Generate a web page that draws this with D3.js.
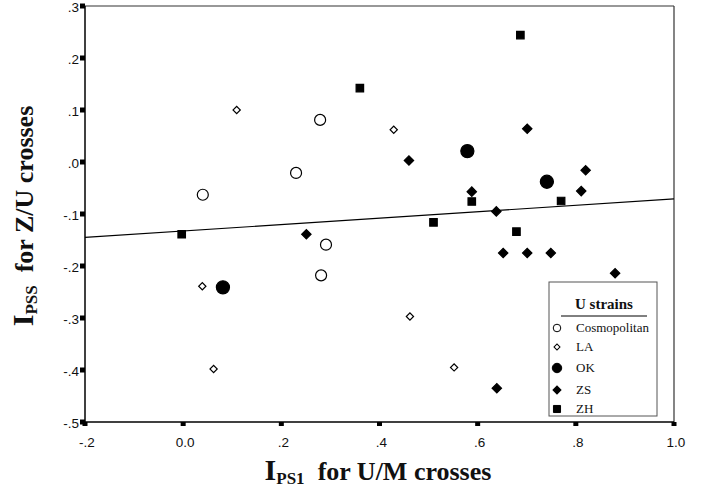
<!DOCTYPE html>
<html>
<head>
<meta charset="utf-8">
<script src="https://cdn.jsdelivr.net/npm/d3@7"></script>
<style>
  body { margin: 0; background: #fff; }
  svg { display: block; }
  .tick-label { font-family: "Liberation Sans", Arial, sans-serif; font-size: 13.5px; fill: #111; }
  .title { font-family: "Liberation Serif", "Times New Roman", serif; font-weight: bold; fill: #111; }
  .legend-text { font-family: "Liberation Serif", "Times New Roman", serif; font-size: 13px; fill: #111; }
</style>
</head>
<body>
<svg id="chart" width="706" height="492"></svg>
<script>
// strains, in legend order
let strains = ["Cosmopolitan", "LA", "OK", "ZS", "ZH"]

// I_PS1 (x) and I_PSS (y) values
let cosmoX = [0.040, 0.230, 0.279, 0.291, 0.281]
let cosmoY = [-0.063, -0.021, 0.081, -0.159, -0.218]

let laX = [0.109, 0.429, 0.039, 0.062, 0.462, 0.552]
let laY = [0.100, 0.062, -0.239, -0.398, -0.297, -0.395]

let okX = [0.579, 0.741, 0.081]
let okY = [0.021, -0.038, -0.241]

let zsX = [0.701, 0.460, 0.820, 0.588, 0.811, 0.638, 0.251, 0.652, 0.701, 0.749, 0.880, 0.639]
let zsY = [0.064, 0.003, -0.016, -0.057, -0.056, -0.095, -0.139, -0.175, -0.175, -0.175, -0.214, -0.435]

let zhX = [0.687, 0.360, 0.588, 0.770, 0.510, 0.679, -0.003]
let zhY = [0.244, 0.142, -0.076, -0.075, -0.116, -0.134, -0.139]

// fitted line drawn in the figure
let fitIntercept = -0.1327
let fitSlope = 0.0617

let xTicks = [-0.2, 0.0, 0.2, 0.4, 0.6, 0.8, 1.0]
let xTickLabels = ["-.2", "0.0", ".2", ".4", ".6", ".8", "1.0"]
let yTicks = [0.3, 0.2, 0.1, 0.0, -0.1, -0.2, -0.3, -0.4, -0.5]
let yTickLabels = [".3", ".2", ".1", ".0", "-.1", "-.2", "-.3", "-.4", "-.5"]

let svg = d3.select("#chart")

let plotLeft = 85, plotRight = 674, plotTop = 6, plotBottom = 422

let x = d3.scaleLinear().domain([-0.2, 1.0]).range([plotLeft, plotRight])
let y = d3.scaleLinear().domain([-0.5, 0.3]).range([plotBottom, plotTop])

// frame
svg.append("line").attr("x1", plotLeft).attr("x2", plotRight).attr("y1", plotTop).attr("y2", plotTop)
    .attr("stroke", "#333").attr("stroke-width", 1.2)
svg.append("line").attr("x1", plotRight).attr("x2", plotRight).attr("y1", plotTop).attr("y2", plotBottom)
    .attr("stroke", "#333").attr("stroke-width", 1.2)
svg.append("line").attr("x1", plotLeft).attr("x2", plotLeft).attr("y1", plotTop).attr("y2", plotBottom)
    .attr("stroke", "#000").attr("stroke-width", 1.5)
svg.append("line").attr("x1", plotLeft).attr("x2", plotRight).attr("y1", plotBottom).attr("y2", plotBottom)
    .attr("stroke", "#000").attr("stroke-width", 1.5)

// axes: little square ticks + labels
let yAxis = svg.append("g")
yAxis.selectAll("rect")
    .data(yTicks)
    .join("rect")
    .attr("x", plotLeft - 5)
    .attr("y", d => y(d) - 2.5)
    .attr("width", 5)
    .attr("height", 5)
    .attr("fill", "#000")
yAxis.selectAll("text")
    .data(yTicks)
    .join("text")
    .attr("class", "tick-label")
    .attr("x", plotLeft - 6)
    .attr("y", d => y(d))
    .attr("dy", "0.45em")
    .attr("text-anchor", "end")
    .text((d, i) => yTickLabels[i])

let xAxis = svg.append("g")
xAxis.selectAll("rect")
    .data(xTicks)
    .join("rect")
    .attr("x", d => x(d) - 2.5)
    .attr("y", plotBottom)
    .attr("width", 5)
    .attr("height", 4)
    .attr("fill", "#000")
xAxis.selectAll("text")
    .data(xTicks)
    .join("text")
    .attr("class", "tick-label")
    .attr("x", d => x(d) + 2)
    .attr("y", 447)
    .attr("text-anchor", "middle")
    .text((d, i) => xTickLabels[i])

// fit line
let fitDomain = x.domain()
svg.append("line")
    .attr("x1", x(fitDomain[0])).attr("y1", y(fitIntercept + fitSlope * fitDomain[0]))
    .attr("x2", x(fitDomain[1])).attr("y2", y(fitIntercept + fitSlope * fitDomain[1]))
    .attr("stroke", "#000").attr("stroke-width", 1.2)

// symbols (diamonds = squares turned 45 degrees)
let sym = {
    "Cosmopolitan": { type: d3.symbolCircle, size: 95, fill: "#fff", rot: 0 },
    "LA": { type: d3.symbolSquare, size: 26, fill: "#fff", rot: 45 },
    "OK": { type: d3.symbolCircle, size: 135, fill: "#000", rot: 0 },
    "ZS": { type: d3.symbolSquare, size: 44, fill: "#000", rot: 45 },
    "ZH": { type: d3.symbolSquare, size: 56, fill: "#000", rot: 0 }
}

let seriesX = [cosmoX, laX, okX, zsX, zhX]
let seriesY = [cosmoY, laY, okY, zsY, zhY]

strains.forEach(function (s, k) {
    let pts = seriesX[k].map((v, i) => [v, seriesY[k][i]])
    let st = sym[s]
    svg.append("g")
        .selectAll("path")
        .data(pts)
        .join("path")
        .attr("transform", d => "translate(" + x(d[0]) + "," + y(d[1]) + ") rotate(" + st.rot + ")")
        .attr("d", d3.symbol().type(st.type).size(st.size))
        .attr("fill", st.fill)
        .attr("stroke", "#000")
        .attr("stroke-width", 1.2)
})

// legend
let legend = svg.append("g").attr("id", "legend")
legend.append("rect")
    .attr("x", 549).attr("y", 282)
    .attr("width", 108).attr("height", 134)
    .attr("fill", "#fff").attr("stroke", "#555").attr("stroke-width", 1)
legend.append("text")
    .attr("class", "title")
    .attr("x", 604).attr("y", 309)
    .attr("text-anchor", "middle")
    .style("font-size", "15px")
    .text("U strains")
legend.append("line")
    .attr("x1", 561).attr("x2", 647).attr("y1", 316).attr("y2", 316)
    .attr("stroke", "#000").attr("stroke-width", 1)

let legendY = [328, 347, 368, 390, 409]
let legendSize = { "Cosmopolitan": 45, "LA": 18, "OK": 70, "ZS": 32, "ZH": 50 }
let entry = legend.selectAll("g.legend_entry")
    .data(strains)
    .join("g")
    .attr("class", "legend_entry")
    .attr("transform", (d, i) => "translate(557," + legendY[i] + ")")
entry.append("path")
    .attr("transform", d => "rotate(" + sym[d].rot + ")")
    .attr("d", d => d3.symbol().type(sym[d].type).size(legendSize[d])())
    .attr("fill", d => sym[d].fill)
    .attr("stroke", "#000")
    .attr("stroke-width", 1)
entry.append("text")
    .attr("class", "legend-text")
    .attr("x", 19)
    .attr("dy", "0.33em")
    .text(d => d)

// axis titles
let yt = svg.append("text")
    .attr("class", "title")
    .attr("transform", "translate(33,216) rotate(-90)")
    .attr("text-anchor", "middle")
yt.append("tspan").style("font-size", "30px").text("I")
yt.append("tspan").style("font-size", "17px").attr("dy", 4).text("PSS")
yt.append("tspan").style("font-size", "26px").attr("dy", -4).text("\u00a0 for Z/U crosses")

let xt = svg.append("text")
    .attr("class", "title")
    .attr("x", 378).attr("y", 480)
    .attr("text-anchor", "middle")
xt.append("tspan").style("font-size", "30px").text("I")
xt.append("tspan").style("font-size", "17px").attr("dy", 4).text("PS1")
xt.append("tspan").style("font-size", "26px").attr("dy", -4).text("\u00a0 for U/M crosses")
</script>
</body>
</html>
